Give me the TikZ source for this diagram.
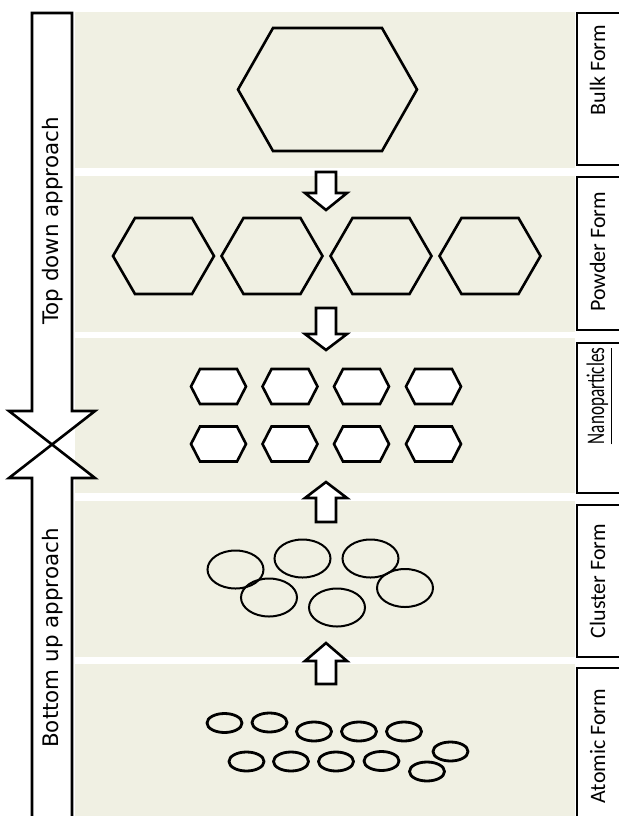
\documentclass[tikz,border=0pt]{standalone}
\usepackage{fontspec}
\newfontfamily\formfont{Carlito}
\newfontfamily\sidefont{DejaVu Sans}
\definecolor{panel}{RGB}{240,240,227}
\tikzset{
  outline/.style={line width=1.3pt, line join=miter},
  blockarrow/.style={outline, fill=white},
  labelbox/.style={line width=1pt},
  formlabel/.style={rotate=90, anchor=base, inner sep=0pt, font=\formfont\fontsize{11}{13}\selectfont},
  sidelabel/.style={rotate=90, anchor=base, inner sep=0pt, font=\sidefont\fontsize{10.7}{13}\selectfont},
}
% hexagon: [style] {cx}{cy}{half width}{half top}{half height}
\newcommand{\hexa}[6][]{%
  \draw[outline,#1] ({#2-#4},#3) -- ({#2-#5},{#3-#6}) -- ({#2+#5},{#3-#6})
    -- ({#2+#4},#3) -- ({#2+#5},{#3+#6}) -- ({#2-#5},{#3+#6}) -- cycle;}
% block arrow: {x}{base}{wings}{tip}
\newcommand{\blockarr}[4]{%
  \draw[blockarrow] ({#1-10},#2) -- ({#1-10},#3) -- ({#1-21},#3) -- (#1,#4)
    -- ({#1+21},#3) -- ({#1+10},#3) -- ({#1+10},#2) -- cycle;}
\begin{document}
\begin{tikzpicture}[x=0.5pt, y=-0.5pt]
    \useasboundingbox (0,0) rectangle (619,816);

    % Panels
    \foreach \ytop/\ybot in {12/168, 176/332, 338/493, 501/657, 664/830}
        \fill[panel] (75,\ytop) rectangle (575,\ybot);

    % Top down / bottom up arrow
    \draw[blockarrow] (32,830) -- (32,478) -- (9,478) -- (52,444.5) -- (9,411)
        -- (32,411) -- (32,13) -- (72,13) -- (72,411) -- (95,411) -- (52,444.5)
        -- (95,478) -- (72,478) -- (72,830) -- cycle;
    \node[sidelabel] (topdown) at (58,221) {Top down approach};
    \node[sidelabel] (bottomup) at (58,638) {Bottom up approach};

    % Labels on the right
    \foreach \ytop/\ybot in {13/165, 177/330, 343/493, 505/657, 668/830}
        \draw[labelbox] (577,\ytop) rectangle (630,\ybot);
    \node[formlabel] (bulk) at (605,70) {Bulk Form};
    \node[formlabel] (powder) at (605,252) {Powder Form};
    \node[formlabel] (nano) at (604,396) {\scalebox{0.78}[1.15]{\underline{Nanoparticles}}};
    \node[formlabel] (cluster) at (605,581) {Cluster Form};
    \node[formlabel] (atomic) at (605,746) {Atomic Form};

    % Bulk form
    \hexa{327.5}{89.5}{89.5}{54.5}{61.5}

    % Powder form
    \foreach \x in {163.5, 272, 381, 490}{
        \hexa{\x}{256}{50.5}{28.5}{38}
    }

    % Nanoparticles
    \foreach \x in {218.5, 290, 361.5, 433.5}{
        \foreach \y in {386.5, 444}{
            \hexa[fill=white]{\x}{\y}{27.5}{18.5}{17.5}
        }
    }

    % Cluster form
    \foreach \cx/\cy in {235.5/569.5, 302.5/558.5, 370.5/558.5, 269/597.5, 337/607.5, 405/588}
        \draw[line width=1pt] (\cx,\cy) ellipse [x radius=28, y radius=19];

    % Atomic form
    \foreach \cx/\cy in {224.5/723, 269.5/722.5, 314/731.5, 359/731.5, 404/731.5,
                         246.5/761.5, 291/761.5, 336/761.5, 381.5/761, 427/771.5, 450.5/751.5}
        \draw[line width=1.4pt] (\cx,\cy) ellipse [x radius=17.5, y radius=9.5];

    % Arrows between stages
    \blockarr{326}{172}{193}{210}
    \blockarr{326}{308}{334}{350}
    \blockarr{326}{522}{498}{482}
    \blockarr{326}{684}{661}{643}

\end{tikzpicture}
\end{document}
